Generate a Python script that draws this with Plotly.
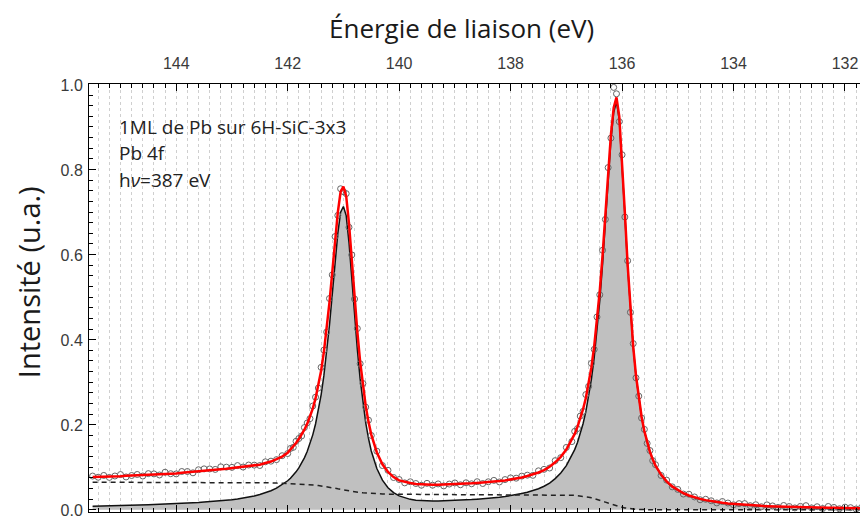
import plotly.graph_objects as go

# ---------------- data ----------------
# Binding energy grid (eV), five segments (finer around the two Pb 4f peaks)
E_A = [145.5, 145.4, 145.3, 145.2, 145.1, 145.0, 144.9, 144.8, 144.7, 144.6, 144.5, 144.4,
       144.3, 144.2, 144.1, 144.0, 143.9, 143.8, 143.7, 143.6, 143.5, 143.4, 143.3, 143.2,
       143.1, 143.0, 142.9, 142.8, 142.7, 142.6, 142.5, 142.4, 142.3, 142.2, 142.1, 142.0]
E_B = [141.95, 141.9, 141.85, 141.8, 141.75, 141.7, 141.65, 141.6, 141.55, 141.5, 141.45, 141.4,
       141.35, 141.3, 141.25, 141.2, 141.15, 141.1, 141.05, 141.0, 140.95, 140.9, 140.85, 140.8,
       140.75, 140.7, 140.65, 140.6, 140.55, 140.5]
E_C = [140.4, 140.3, 140.2, 140.1, 140.0, 139.9, 139.8, 139.7, 139.6, 139.5, 139.4, 139.3,
       139.2, 139.1, 139.0, 138.9, 138.8, 138.7, 138.6, 138.5, 138.4, 138.3, 138.2, 138.1,
       138.0, 137.9, 137.8, 137.7, 137.6, 137.5, 137.4, 137.3, 137.2, 137.1, 137.0, 136.9]
E_D = [136.85, 136.8, 136.75, 136.7, 136.65, 136.6, 136.55, 136.5, 136.45, 136.4, 136.35, 136.3,
       136.25, 136.2, 136.15, 136.1, 136.05, 136.0, 135.95, 135.9, 135.85, 135.8, 135.75, 135.7,
       135.65, 135.6, 135.55, 135.5, 135.45, 135.4]
E_E = [135.3, 135.2, 135.1, 135.0, 134.9, 134.8, 134.7, 134.6, 134.5, 134.4, 134.3, 134.2,
       134.1, 134.0, 133.9, 133.8, 133.7, 133.6, 133.5, 133.4, 133.3, 133.2, 133.1, 133.0,
       132.9, 132.8, 132.7, 132.6, 132.5, 132.4, 132.3, 132.2, 132.1, 132.0, 131.9, 131.8,
       131.7, 131.6]

# Measured intensity (open circles)
DATA_A = [.0795, .0767, .0809, .0763, .0796, .0830, .0774, .0808, .0832, .0796, .0852, .0846,
          .0820, .0885, .0850, .0846, .0902, .0901, .0871, .0943, .0964, .0962, .0951, .1012,
          .1004, .0999, .1041, .1006, .1054, .1052, .1043, .1130, .1145, .1181, .1273, .1324]
DATA_B = [.1443, .1469, .1612, .1677, .1737, .1935, .2041, .2144, .2441, .2649, .2863, .3350,
          .3755, .4181, .4968, .5524, .6424, .6921, .7548, .7478, .7433, .6642, .5992, .4956,
          .4263, .3435, .2971, .2414, .2109, .1749]
DATA_C = [.1380, .1042, .0930, .0761, .0713, .0635, .0660, .0620, .0579, .0624, .0580, .0610,
          .0563, .0607, .0633, .0590, .0637, .0613, .0662, .0620, .0660, .0693, .0656, .0712,
          .0752, .0745, .0793, .0816, .0812, .0918, .0953, .0984, .1157, .1227, .1468, .1605]
DATA_D = [.1846, .1910, .2204, .2315, .2710, .2902, .3443, .3772, .4534, .5055, .6102, .6827,
          .8045, .8738, .9930, .9780, .9125, .8346, .6883, .5855, .4644, .3909, .3103, .2673,
          .2159, .1892, .1562, .1395, .1158, .1062]
DATA_E = [.0809, .0699, .0541, .0481, .0372, .0368, .0304, .0238, .0249, .0214, .0164, .0196,
          .0161, .0119, .0147, .0147, .0098, .0121, .0074, .0118, .0093, .0058, .0103, .0079,
          .0046, .0082, .0099, .0046, .0074, .0032, .0080, .0058, .0026, .0064, .0052, .0021,
          .0060, .0029]

# Total fit (red)
FIT_A = [.0775, .0777, .0779, .0783, .0786, .0790, .0804, .0808, .0812, .0816, .0822, .0836,
         .0840, .0845, .0850, .0856, .0872, .0881, .0891, .0903, .0914, .0932, .0941, .0952,
         .0964, .0979, .0991, .1006, .1024, .1042, .1063, .1100, .1135, .1191, .1253, .1344]
FIT_B = [.1413, .1489, .1572, .1667, .1767, .1885, .2021, .2184, .2381, .2619, .2913, .3270,
         .3715, .4251, .4878, .5584, .6324, .7001, .7478, .7598, .7373, .6732, .5882, .4996,
         .4183, .3485, .2911, .2444, .2069, .1769]
FIT_C = [.1350, .1072, .0890, .0771, .0693, .0655, .0630, .0610, .0599, .0594, .0590, .0590,
         .0593, .0597, .0603, .0610, .0617, .0623, .0632, .0640, .0650, .0663, .0676, .0692,
         .0712, .0735, .0763, .0796, .0832, .0878, .0933, .1014, .1117, .1247, .1418, .1645]
FIT_D = [.1786, .1950, .2134, .2365, .2630, .2962, .3353, .3842, .4434, .5145, .5982, .6927,
         .7915, .8818, .9454, .9695, .9245, .8246, .6993, .5765, .4704, .3839, .3153, .2613,
         .2189, .1852, .1582, .1365, .1188, .1042]
FIT_E = [.0829, .0669, .0551, .0461, .0392, .0338, .0294, .0258, .0229, .0204, .0184, .0166,
         .0151, .0139, .0127, .0117, .0108, .0101, .0094, .0088, .0083, .0078, .0073, .0069,
         .0066, .0062, .0059, .0056, .0054, .0052, .0050, .0048, .0046, .0044, .0042, .0041,
         .0040, .0039]

# Pb 4f doublet component (black line, grey fill)
COMP_A = [.0085, .0087, .0089, .0093, .0096, .0100, .0104, .0108, .0112, .0116, .0122, .0126,
          .0130, .0135, .0140, .0146, .0152, .0159, .0166, .0175, .0184, .0192, .0201, .0212,
          .0224, .0239, .0256, .0276, .0299, .0327, .0360, .0400, .0450, .0511, .0588, .0684]
COMP_B = [.0745, .0814, .0894, .0987, .1095, .1222, .1372, .1549, .1763, .2019, .2330, .2705,
          .3160, .3706, .4345, .5064, .5816, .6506, .6996, .7130, .6918, .6289, .5450, .4574,
          .3769, .3079, .2511, .2050, .1680, .1384]
COMP_C = [.0972, .0699, .0520, .0404, .0328, .0281, .0247, .0228, .0218, .0214, .0210, .0210,
          .0213, .0217, .0223, .0230, .0237, .0243, .0252, .0260, .0270, .0283, .0296, .0312,
          .0332, .0355, .0383, .0416, .0452, .0498, .0556, .0629, .0734, .0867, .1041, .1272]
COMP_D = [.1416, .1585, .1786, .2025, .2310, .2654, .3070, .3576, .4187, .4918, .5777, .6744,
          .7755, .8681, .9339, .9600, .9168, .8186, .6947, .5731, .4679, .3821, .3141, .2605,
          .2184, .1849, .1581, .1365, .1188, .1042]
COMP_E = [.0819, .0659, .0541, .0451, .0382, .0328, .0284, .0248, .0219, .0194, .0174, .0156,
          .0141, .0129, .0117, .0107, .0098, .0091, .0084, .0078, .0073, .0068, .0063, .0059,
          .0056, .0052, .0049, .0046, .0044, .0042, .0040, .0038, .0036, .0034, .0032, .0031,
          .0030, .0029]

# Background (dashed line)
BG_A = [.065, .065, .065, .065, .065, .065, .065, .065, .065, .065, .065, .065,
        .065, .065, .065, .065, .065, .065, .065, .065, .065, .065, .065, .065,
        .065, .065, .065, .065, .0648, .0645, .0643, .0640, .0635, .0630, .0625, .0620]
BG_B = [.0618, .0615, .0613, .0610, .0607, .0603, .0599, .0595, .0588, .0580, .0573, .0565,
        .0555, .0545, .0533, .0520, .0508, .0495, .0482, .0468, .0455, .0443, .0432, .0422,
        .0414, .0406, .0400, .0394, .0389, .0385]
BG_C = [.0378, .0373, .0370, .0367, .0365, .0364, .0363, .0362, .0361, .036, .036, .036,
        .036, .036, .036, .036, .036, .036, .036, .036, .036, .036, .036, .036,
        .036, .036, .036, .036, .036, .036, .0357, .0355, .0353, .0350, .0347, .0343]
BG_D = [.0340, .0335, .0328, .0320, .0310, .0298, .0283, .0266, .0247, .0227, .0205, .0183,
        .0160, .0137, .0115, .0095, .0077, .0060, .0046, .0034, .0025, .0018, .0012, .0008,
        .0005, .0003, .0001, 0.0, 0.0, 0.0]
BG_E = [0.0, 0.0, 0.0, 0.0, 0.0, 0.0, 0.0, 0.0, 0.0, 0.0, 0.0, 0.0,
        0.0, 0.0, 0.0, 0.0, 0.0, 0.0, 0.0, 0.0, 0.0, 0.0, 0.0, 0.0,
        0.0, 0.0, 0.0, 0.0, 0.0, 0.0, 0.0, 0.0, 0.0, 0.0, 0.0, 0.0,
        0.0, 0.0]

X_TICKS = [144, 142, 140, 138, 136, 134, 132]
Y_TICKS = [0.0, 0.2, 0.4, 0.6, 0.8, 1.0]
X_TITLE = "Énergie de liaison (eV)"
Y_TITLE = "Intensité (u.a.)"
INFO_LINES = ["1ML de Pb sur 6H-SiC-3x3", "Pb 4f", "h<i>ν</i>=387 eV"]

energy = E_A + E_B + E_C + E_D + E_E
intensity = DATA_A + DATA_B + DATA_C + DATA_D + DATA_E
fit = FIT_A + FIT_B + FIT_C + FIT_D + FIT_E
component = COMP_A + COMP_B + COMP_C + COMP_D + COMP_E
background = BG_A + BG_B + BG_C + BG_D + BG_E
for s in (intensity, fit, component, background):
    assert len(s) == len(energy), (len(s), len(energy))

# ---------------- figure ----------------
fig = go.Figure()
fig.add_trace(go.Scatter(x=energy, y=component, mode="lines",
                         line=dict(color="#111111", width=1.5),
                         fill="tozeroy", fillcolor="#c0c0c0", hoverinfo="skip"))
fig.add_trace(go.Scatter(x=energy, y=background, mode="lines",
                         line=dict(color="#222222", width=1.5, dash="5px,4px")))
fig.add_trace(go.Scatter(x=energy, y=intensity, mode="markers",
                         marker=dict(symbol="circle-open", size=6, color="#666666",
                                     line=dict(width=1))))
fig.add_trace(go.Scatter(x=energy, y=fit, mode="lines",
                         line=dict(color="#ff0000", width=2.5)))

grid_col = "#cfcfcf"
# the page body adds an 8 px offset, so the figure is 8 px smaller on each side
fig.update_layout(
    width=860, height=510,
    margin=dict(l=81, r=0, t=76, b=6),
    paper_bgcolor="white", plot_bgcolor="white",
    showlegend=False,
    font=dict(family="Liberation Sans, Arial, sans-serif", color="#333333"),
)
fig.update_xaxes(
    range=[145.565, 131.587], side="top",
    tickmode="array", tickvals=X_TICKS, ticktext=[str(t) for t in X_TICKS],
    ticks="inside", ticklen=7, tickwidth=1, tickcolor="black",
    showline=True, linecolor="black", linewidth=1, mirror="ticks",
    showgrid=True, gridcolor=grid_col, griddash="dot", gridwidth=1,
    zeroline=False,
    tickfont=dict(size=16, color="#3a3a3a"),
    ticklabelstandoff=8,
    minor=dict(dtick=0.2, tick0=0, ticks="inside", ticklen=4, tickcolor="black",
               showgrid=True, gridcolor=grid_col, griddash="dot", gridwidth=1),
    automargin=False,
)
fig.update_yaxes(
    range=[-0.005, 1.001],
    tickmode="array", tickvals=Y_TICKS, ticktext=["%.1f" % t for t in Y_TICKS],
    ticks="inside", ticklen=7, tickwidth=1, tickcolor="black",
    showline=True, linecolor="black", linewidth=1, mirror="ticks",
    showgrid=False, zeroline=False,
    tickfont=dict(size=16, color="#3a3a3a"),
    ticklabelstandoff=2, ticklabeloverflow="allow", ticklabelshift=1,
    minor=dict(dtick=0.025, tick0=0, ticks="inside", ticklen=4, tickcolor="black",
               showgrid=False),
    automargin=False,
)

# axis titles (placed where they sit in the reference)
fig.add_annotation(x=0.4782, y=1.0, xref="paper", yref="paper", yshift=56,
                   text=X_TITLE, showarrow=False, xanchor="center", yanchor="middle",
                   font=dict(family="Open Sans", size=26, color="#1a1a1a"))
fig.add_annotation(x=0.0, y=0.537, xref="paper", yref="paper", xshift=-61,
                   text=Y_TITLE, showarrow=False, textangle=-90,
                   xanchor="center", yanchor="middle",
                   font=dict(family="Open Sans", size=29, color="#1a1a1a"))

for txt, yp in zip(INFO_LINES, [0.900, 0.839, 0.776]):
    fig.add_annotation(x=0.036, y=yp, xref="paper", yref="paper",
                       text=txt, showarrow=False, xanchor="left", yanchor="middle",
                       font=dict(family="Open Sans", size=19, color="#222222"))

fig.write_html("out.html")
